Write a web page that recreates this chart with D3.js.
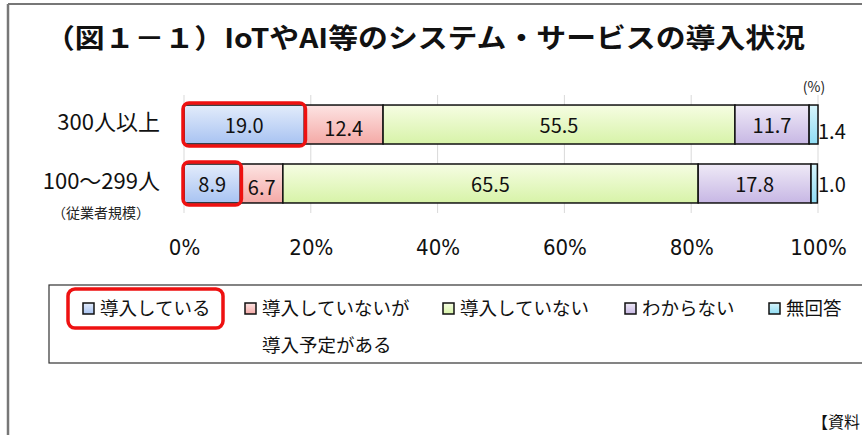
<!DOCTYPE html>
<meta charset="utf-8" />
<script src="https://d3js.org/d3.v7.min.js"></script>
<style>
  body { margin: 0; background: #fff; }
  text { font-family: "Noto Sans CJK JP", "Noto Sans", sans-serif; }
</style>
<div id="chart"></div>
<script>
  // data
  const categories = ["300人以上", "100～299人"];
  const seriesNames = ["導入している", "導入していないが\n導入予定がある", "導入していない", "わからない", "無回答"];
  const values300 = [19.0, 12.4, 55.5, 11.7, 1.4];
  const values100 = [8.9, 6.7, 65.5, 17.8, 1.0];
  const tickValues = [0, 20, 40, 60, 80, 100];

  const width = 862;
  const height = 435;

  const colors = [
    ["#e3ecfb", "#a8c3f2"],
    ["#fde4e3", "#f4a9a6"],
    ["#f6fde3", "#d7f3a8"],
    ["#efeaf7", "#c7b7e4"],
    ["#d8f5fc", "#8fdcf3"]
  ];

  const svg = d3.select("#chart").append("svg")
    .attr("width", width)
    .attr("height", height);

  const defs = svg.append("defs");
  colors.forEach((c, i) => {
    const g = defs.append("linearGradient")
      .attr("id", "grad" + i)
      .attr("x1", 0).attr("y1", 0).attr("x2", 0).attr("y2", 1);
    g.append("stop").attr("offset", "0%").attr("stop-color", c[0]);
    g.append("stop").attr("offset", "100%").attr("stop-color", c[1]);
  });

  // frame
  svg.append("line").attr("x1", 8).attr("x2", width).attr("y1", 4).attr("y2", 4)
    .attr("stroke", "#777").attr("stroke-width", 2);
  svg.append("line").attr("x1", 8).attr("x2", 8).attr("y1", 4).attr("y2", height)
    .attr("stroke", "#777").attr("stroke-width", 2.5);

  // title
  svg.append("text")
    .attr("x", 45).attr("y", 48)
    .attr("textLength", 760).attr("lengthAdjust", "spacingAndGlyphs")
    .style("font-size", "27px").style("font-weight", "bold").style("fill", "#111")
    .text("（図１－１）IoTやAI等のシステム・サービスの導入状況");

  svg.append("text")
    .attr("x", 814).attr("y", 86).attr("text-anchor", "middle")
    .attr("dominant-baseline", "central")
    .style("font-size", "14px").style("fill", "#222")
    .text("(%)");

  const x = d3.scaleLinear().domain([0, 100]).range([184, 818]);
  const y = d3.scaleBand().domain(categories).range([95, 213])
    .paddingInner(0.339).paddingOuter(0.17);

  // gridlines
  svg.append("g").selectAll("line").data(tickValues).join("line")
    .attr("x1", d => x(d)).attr("x2", d => x(d))
    .attr("y1", 95).attr("y2", 213)
    .attr("stroke", "#d9d9d9").attr("stroke-width", 1);

  // axis labels
  const axis = svg.append("g")
    .attr("transform", "translate(0,236)")
    .call(d3.axisBottom(x).tickValues(tickValues).tickSize(0).tickFormat(d => d + "%"));
  axis.select(".domain").remove();
  axis.selectAll("text")
    .style("font-family", "'Liberation Sans Narrow', 'DejaVu Sans Condensed', sans-serif")
    .style("font-size", "22px").style("fill", "#111");

  // build stacked rows
  const rows = [values300, values100].map((vals, r) => {
    let acc = 0;
    return vals.map((v, i) => {
      const d = { cat: categories[r], i: i, v: v, x0: acc, x1: acc + v };
      acc += v;
      return d;
    });
  });

  const bars = svg.append("g");
  rows.forEach(row => {
    bars.selectAll(null).data(row).join("rect")
      .attr("x", d => x(d.x0))
      .attr("y", d => y(d.cat))
      .attr("width", d => x(d.x1) - x(d.x0))
      .attr("height", y.bandwidth())
      .attr("fill", d => "url(#grad" + d.i + ")")
      .attr("stroke", "#111").attr("stroke-width", 1.5);

    bars.selectAll(null).data(row).join("text")
      .attr("x", d => d.i === 4 ? x(100) : (x(d.x0) + x(d.x1)) / 2)
      .attr("y", d => y(d.cat) + y.bandwidth() / 2 + (d.i === 1 ? 3 : 0) + (d.i === 4 && d.cat === categories[0] ? 6 : 0))
      .attr("text-anchor", d => d.i === 4 ? "start" : "middle")
      .attr("dominant-baseline", "central")
      .style("font-size", "20px").style("fill", "#111")
      .text(d => d.v.toFixed(1));

    // red highlight around first segment
    const d0 = row[0];
    bars.append("rect")
      .attr("x", x(d0.x0) - 1).attr("y", y(d0.cat) - 2)
      .attr("width", x(d0.x1) - x(d0.x0) + 2).attr("height", y.bandwidth() + 4)
      .attr("rx", 6).attr("fill", "none")
      .attr("stroke", "#ee1111").attr("stroke-width", 3.5);
  });

  // category labels
  svg.append("g").selectAll("text").data(categories).join("text")
    .attr("x", 160)
    .attr("y", (d, i) => y(d) + y.bandwidth() / 2 - (i === 0 ? 5 : 4))
    .attr("text-anchor", "end").attr("dominant-baseline", "central")
    .style("font-size", "22px").style("fill", "#111")
    .text(d => d);
  svg.append("text")
    .attr("x", 150).attr("y", 212)
    .attr("text-anchor", "end").attr("dominant-baseline", "central")
    .style("font-size", "14px").style("fill", "#222")
    .text("（従業者規模）");

  // legend
  svg.append("rect")
    .attr("x", 49).attr("y", 285).attr("width", width).attr("height", 78)
    .attr("fill", "none").attr("stroke", "#333").attr("stroke-width", 1.2);

  const legendX = [83, 245, 443, 625, 769];
  const legend = svg.append("g").selectAll("g").data(seriesNames).join("g")
    .attr("transform", (d, i) => "translate(" + legendX[i] + ",0)");
  legend.append("rect")
    .attr("x", 0).attr("y", 303).attr("width", 11).attr("height", 11)
    .attr("fill", (d, i) => "url(#grad" + i + ")")
    .attr("stroke", "#111").attr("stroke-width", 1.5);
  legend.each(function (d) {
    const lines = d.split("\n");
    d3.select(this).selectAll("text").data(lines).join("text")
      .attr("x", 17).attr("y", (l, j) => 307 + j * 37)
      .attr("dominant-baseline", "central")
      .style("font-size", "18.5px").style("fill", "#111")
      .text(l => l);
  });

  svg.append("rect")
    .attr("x", 68).attr("y", 289).attr("width", 155).attr("height", 39)
    .attr("rx", 7).attr("fill", "none")
    .attr("stroke", "#ee1111").attr("stroke-width", 3.5);

  svg.append("text")
    .attr("x", 812).attr("y", 421).attr("dominant-baseline", "central")
    .style("font-size", "16px").style("fill", "#111")
    .text("【資料");
</script>
